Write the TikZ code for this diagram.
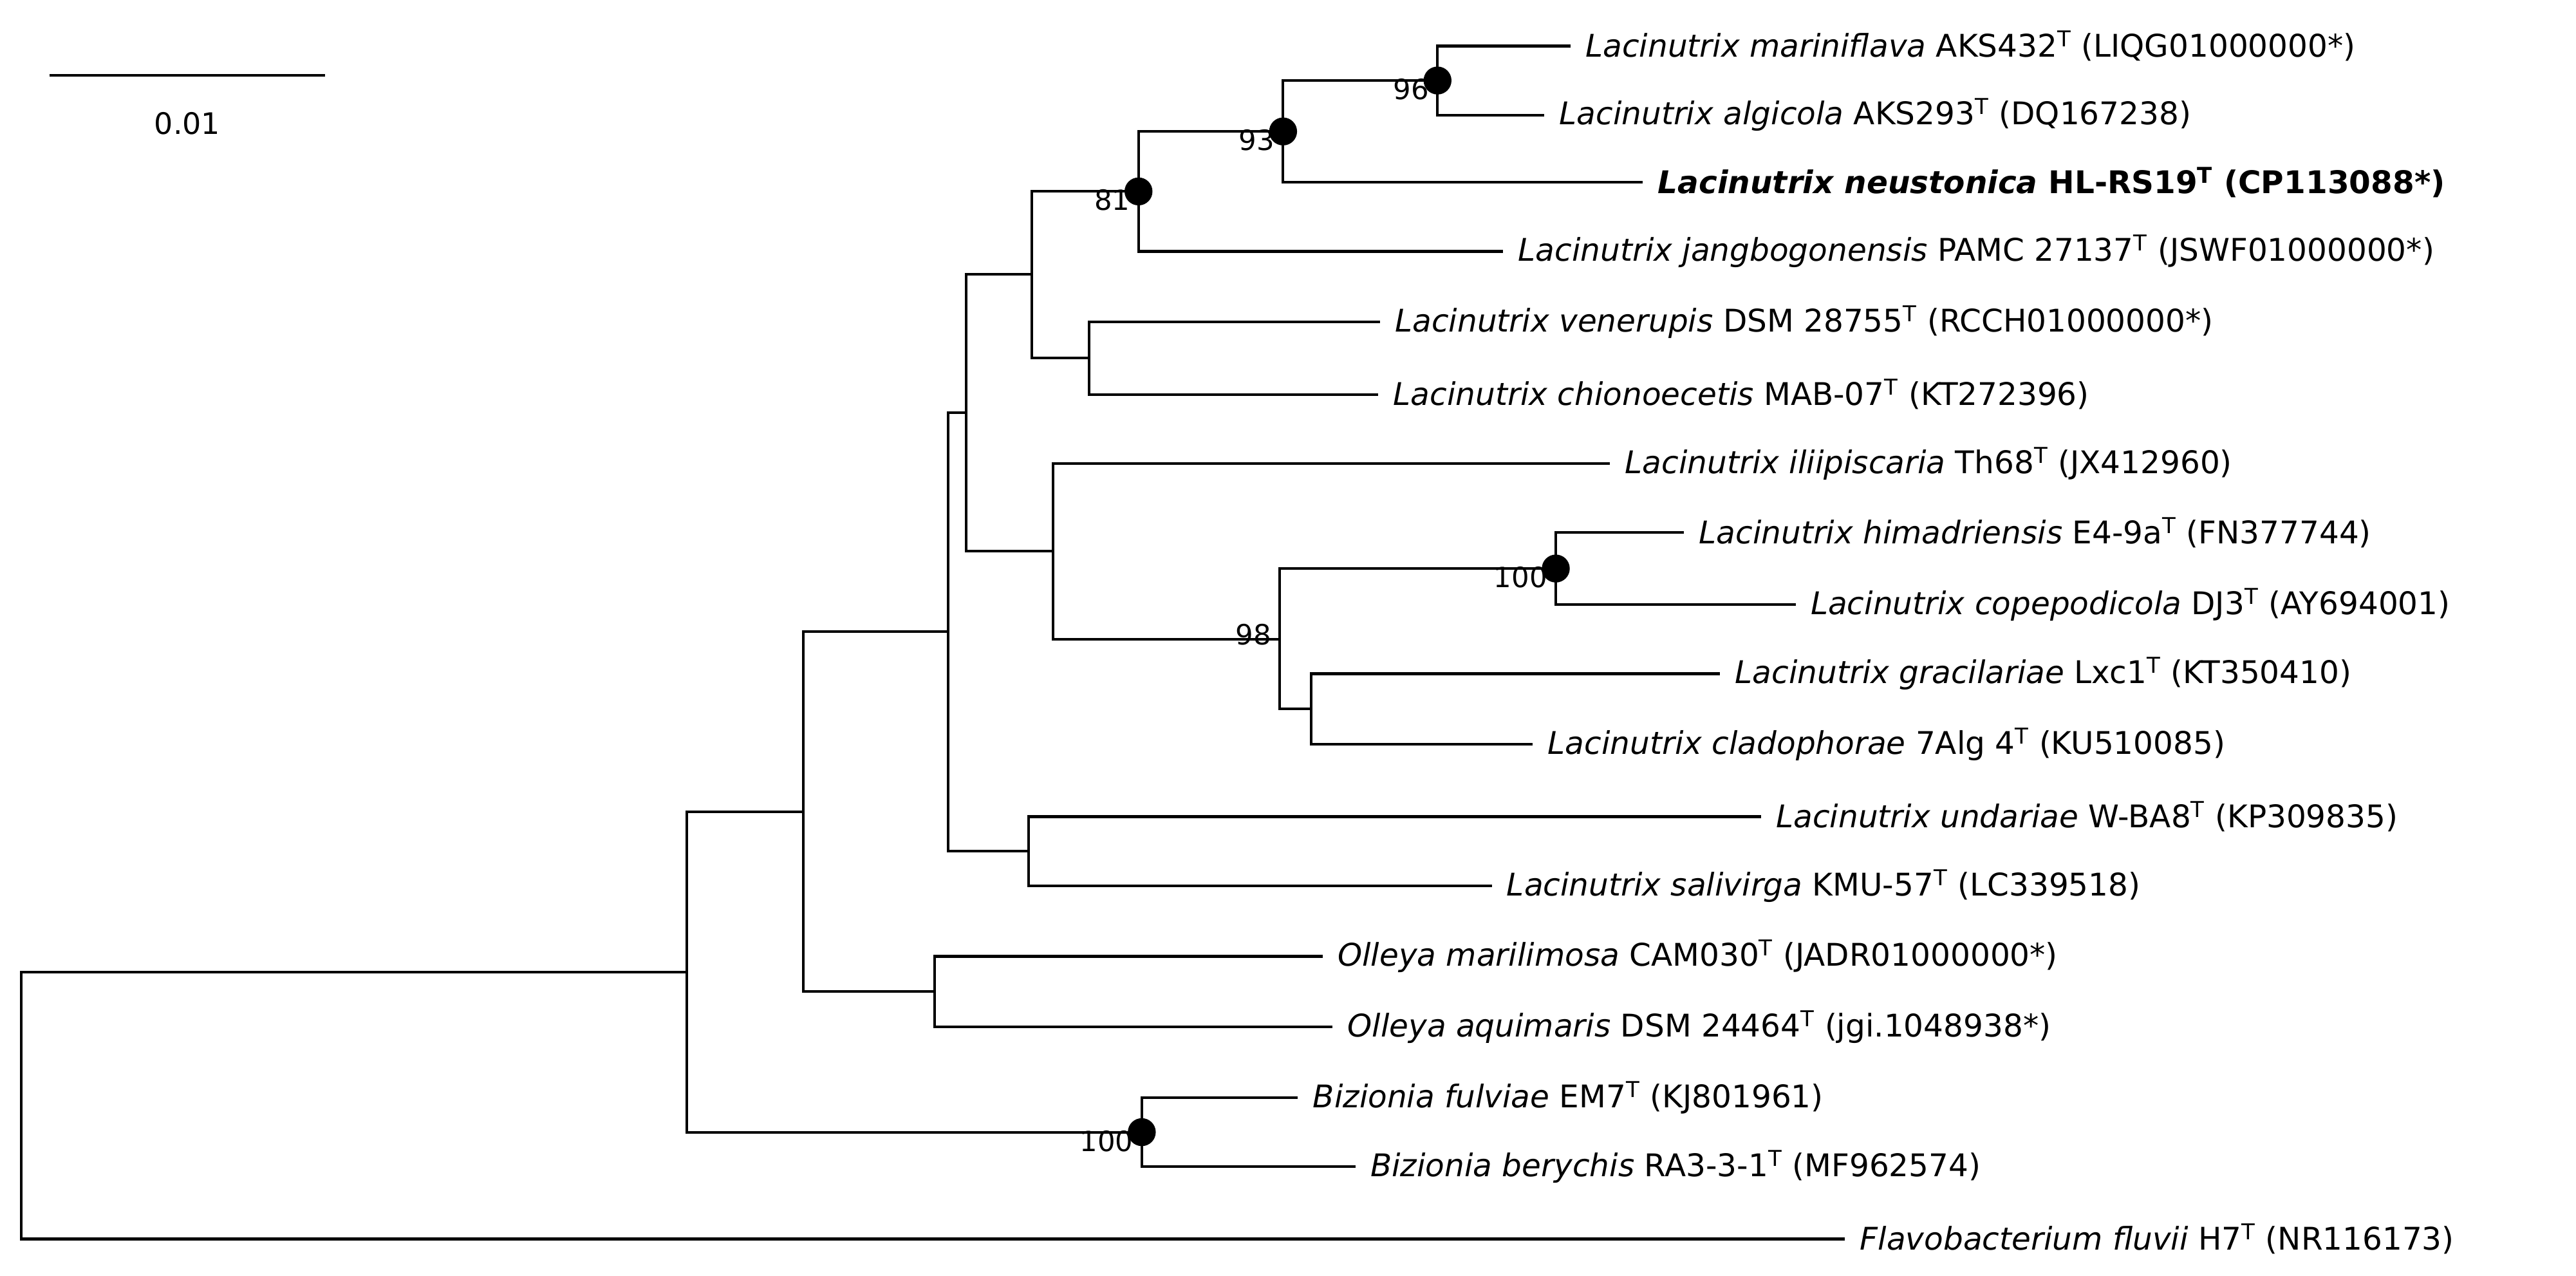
\documentclass[tikz,border=0pt]{standalone}
\usepackage{fontspec}
\setmainfont{DejaVu Sans}
\begin{document}
\begin{tikzpicture}[x=1pt,y=-1pt,
  br/.style={line width=1.6pt},
  tip/.style={anchor=west,inner sep=0pt,xshift=9pt,font=\fontsize{19}{22}\selectfont},
  bs/.style={anchor=south east,inner sep=0pt,font=\fontsize{17}{20}\selectfont},
  dot/.style={circle,fill=black,minimum size=17pt,inner sep=0pt}]
\useasboundingbox (0,0) rectangle (1568,776.5);
% tips
\coordinate (mar) at (956,28);
\coordinate (alg) at (940,70);
\coordinate (neu) at (1000,111);
\coordinate (jan) at (915,153);
\coordinate (ven) at (840,196);
\coordinate (chi) at (839,240);
\coordinate (ili) at (980,282);
\coordinate (him) at (1025,324);
\coordinate (cop) at (1093,368);
\coordinate (gra) at (1047,410);
\coordinate (cla) at (933,453);
\coordinate (und) at (1072,497);
\coordinate (sal) at (908,539);
\coordinate (om) at (805,582);
\coordinate (oa) at (811,625);
\coordinate (bf) at (790,668);
\coordinate (bb) at (825,710);
\coordinate (fl) at (1123,754);
% internal nodes
\coordinate (n96) at (875,49);
\coordinate (n93) at (781,80);
\coordinate (n81) at (693,116.5);
\coordinate (nVC) at (663,218);
\coordinate (nD) at (628,167);
\coordinate (nH) at (947,346);
\coordinate (nGC) at (798,431.5);
\coordinate (n98) at (779,389);
\coordinate (nI) at (641,335.5);
\coordinate (nC) at (588,251);
\coordinate (nUS) at (626,518);
\coordinate (nC2) at (577,384.5);
\coordinate (nO) at (569,603.5);
\coordinate (nB) at (489,494);
\coordinate (nBz) at (695,689);
\coordinate (nA) at (418,591.5);
\coordinate (root) at (13,672.5);
% branches
\foreach \p/\c in {n96/mar,n96/alg,n93/n96,n93/neu,n81/n93,n81/jan,nVC/ven,nVC/chi,
  nD/n81,nD/nVC,nH/him,nH/cop,nGC/gra,nGC/cla,n98/nH,n98/nGC,nI/ili,nI/n98,
  nC/nD,nC/nI,nUS/und,nUS/sal,nC2/nC,nC2/nUS,nO/om,nO/oa,nB/nC2,nB/nO,
  nBz/bf,nBz/bb,nA/nB,nA/nBz,root/nA,root/fl}
  \draw[br] (\p) |- (\c);
% dots
\foreach \n in {n96,n93,n81,nH,nBz} \node[dot] at (\n) {};
% bootstrap values
\node[bs] at ([xshift=-5pt,yshift=-12pt]n96) {96};
\node[bs] at ([xshift=-5pt,yshift=-12pt]n93) {93};
\node[bs] at ([xshift=-5pt,yshift=-12pt]n81) {81};
\node[bs] at ([xshift=-5pt,yshift=-12pt]nH) {100};
\node[bs] at ([xshift=-5pt,yshift=-4pt]n98) {98};
\node[bs] at ([xshift=-5pt,yshift=-12pt]nBz) {100};
% labels
\node[tip] (tmar) at (mar) {\textit{Lacinutrix mariniflava} AKS432\textsuperscript{T} (LIQG01000000*)};
\node[tip] (talg) at (alg) {\textit{Lacinutrix algicola} AKS293\textsuperscript{T} (DQ167238)};
\node[tip,font=\fontsize{19}{22}\selectfont\bfseries] (tneu) at (neu) {\textit{Lacinutrix neustonica} HL-RS19\textsuperscript{T} (CP113088*)};
\node[tip] (tjan) at (jan) {\textit{Lacinutrix jangbogonensis} PAMC 27137\textsuperscript{T} (JSWF01000000*)};
\node[tip] (tven) at (ven) {\textit{Lacinutrix venerupis} DSM 28755\textsuperscript{T} (RCCH01000000*)};
\node[tip] (tchi) at (chi) {\textit{Lacinutrix chionoecetis} MAB-07\textsuperscript{T} (KT272396)};
\node[tip] (tili) at (ili) {\textit{Lacinutrix iliipiscaria} Th68\textsuperscript{T} (JX412960)};
\node[tip] (thim) at (him) {\textit{Lacinutrix himadriensis} E4-9a\textsuperscript{T} (FN377744)};
\node[tip] (tcop) at (cop) {\textit{Lacinutrix copepodicola} DJ3\textsuperscript{T} (AY694001)};
\node[tip] (tgra) at (gra) {\textit{Lacinutrix gracilariae} Lxc1\textsuperscript{T} (KT350410)};
\node[tip] (tcla) at (cla) {\textit{Lacinutrix cladophorae} 7Alg 4\textsuperscript{T} (KU510085)};
\node[tip] (tund) at (und) {\textit{Lacinutrix undariae} W-BA8\textsuperscript{T} (KP309835)};
\node[tip] (tsal) at (sal) {\textit{Lacinutrix salivirga} KMU-57\textsuperscript{T} (LC339518)};
\node[tip] (tom) at (om) {\textit{Olleya marilimosa} CAM030\textsuperscript{T} (JADR01000000*)};
\node[tip] (toa) at (oa) {\textit{Olleya aquimaris} DSM 24464\textsuperscript{T} (jgi.1048938*)};
\node[tip] (tbf) at (bf) {\textit{Bizionia fulviae} EM7\textsuperscript{T} (KJ801961)};
\node[tip] (tbb) at (bb) {\textit{Bizionia berychis} RA3-3-1\textsuperscript{T} (MF962574)};
\node[tip] (tfl) at (fl) {\textit{Flavobacterium fluvii} H7\textsuperscript{T} (NR116173)};
% scale bar
\coordinate (sb1) at (30,46);
\coordinate (sb2) at (198,46);
\draw[br] (sb1) -- (sb2);
\node[font=\fontsize{18}{21}\selectfont] (sbl) at (114,75) {0.01};
\end{tikzpicture}
\end{document}
